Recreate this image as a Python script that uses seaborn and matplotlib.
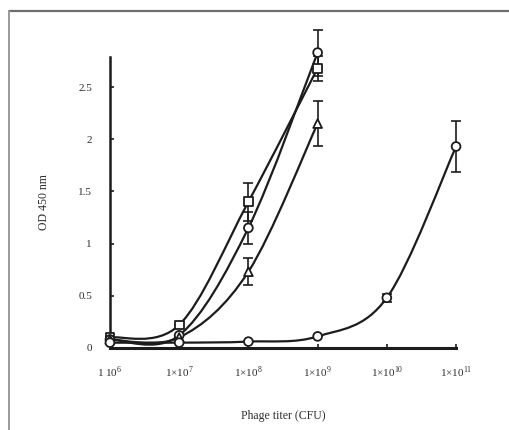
import numpy as np
import pandas as pd
import seaborn as sns
import matplotlib.pyplot as plt
from matplotlib.path import Path
from matplotlib.patches import PathPatch
from matplotlib.lines import Line2D

# titer exponents (1x10^n CFU)
EXPONENTS = [6, 7, 8, 9, 10, 11]
TICK_LABELS = ['1 10$^{6}$', '1×10$^{7}$', '1×10$^{8}$', '1×10$^{9}$',
               '1×10$^{10}$', '1×10$^{11}$']

square_od = [0.10, 0.22, 1.40, 2.68]
square_err = [0.0, 0.0, 0.18, 0.12]
circle_od = [0.08, 0.12, 1.15, 2.83]
circle_err = [0.0, 0.0, 0.15, 0.22]
triangle_od = [0.08, 0.10, 0.73, 2.15]
triangle_err = [0.0, 0.0, 0.13, 0.22]
low_od = [0.05, 0.05, 0.06, 0.11, 0.48, 1.93]
low_err = [0.0, 0.0, 0.0, 0.0, 0.04, 0.24]

INK = '#1c1c1c'

SERIES = [
    ('square', 's', square_od, square_err),
    ('circle', 'o', circle_od, circle_err),
    ('triangle', '^', triangle_od, triangle_err),
    ('low', 'o', low_od, low_err),
]


def _smooth_path(xs, ys):
    # catmull-rom segments written as cubic bezier, like a spreadsheet "smoothed line"
    pts = np.column_stack([xs, ys]).astype(float)
    n = len(pts)
    verts = [pts[0]]
    codes = [Path.MOVETO]
    for i in range(n - 1):
        p0 = pts[max(i - 1, 0)]
        p1 = pts[i]
        p2 = pts[i + 1]
        p3 = pts[min(i + 2, n - 1)]
        verts += [p1 + (p2 - p0) / 6.0, p2 - (p3 - p1) / 6.0, p2]
        codes += [Path.CURVE4] * 3
    return Path(verts, codes)


sns.set_theme(style='ticks')
plt.rcParams['font.family'] = ['Liberation Serif', 'DejaVu Serif']
plt.rcParams['mathtext.fontset'] = 'custom'
plt.rcParams['mathtext.rm'] = 'Liberation Serif'

fig = plt.figure(figsize=(5.09, 4.30), dpi=100)
ax = fig.add_axes([0.216, 0.191, 0.680, 0.677])

rows = []
for name, marker, od, err in SERIES:
    xs = EXPONENTS[:len(od)]
    ax.add_patch(PathPatch(_smooth_path(xs, od), facecolor='none',
                           edgecolor=INK, linewidth=1.6, clip_on=False, zorder=2))
    ax.errorbar(xs, od, yerr=err, fmt='none', ecolor=INK, elinewidth=1.2,
                capsize=3.5, capthick=1.2, clip_on=False, zorder=3)
    rows += [{'titer': x, 'od': y, 'series': name} for x, y in zip(xs, od)]

data = pd.DataFrame(rows)
sns.scatterplot(data=data, x='titer', y='od', style='series',
                markers={'square': 's', 'circle': 'o', 'triangle': '^', 'low': 'o'},
                color='white', edgecolor=INK, linewidth=1.3, s=40,
                legend=False, clip_on=False, zorder=4, ax=ax)

ax.set_xlim(6, 11)
ax.set_ylim(0, 2.79)
ax.set_xticks(EXPONENTS)
ax.set_xticklabels(TICK_LABELS)
ax.set_yticks([0, 0.5, 1, 1.5, 2, 2.5])
ax.set_yticklabels(['0', '0.5', '1', '1.5', '2', '2.5'])
ax.tick_params(axis='both', direction='in', length=3, width=1.2, color=INK,
               labelsize=8, labelcolor='#2e2e2e')
ax.tick_params(axis='y', pad=13)
ax.tick_params(axis='x', pad=12)
sns.despine(ax=ax)
ax.spines['left'].set_linewidth(1.8)
ax.spines['bottom'].set_linewidth(2.2)
ax.spines['left'].set_color(INK)
ax.spines['bottom'].set_color(INK)
ax.set_xlabel('Phage titer (CFU)', fontsize=8.5, color='#2e2e2e', labelpad=22)
ax.set_ylabel('OD 450 nm', fontsize=8.5, color='#2e2e2e', labelpad=20)

# outer frame of the scanned figure (top and left edges only show)
fig.add_artist(Line2D([9 / 509, 1.0], [1 - 11 / 430, 1 - 11 / 430],
                      transform=fig.transFigure, color='#6e6e6e', linewidth=1.6))
fig.add_artist(Line2D([9 / 509, 9 / 509], [0.0, 1 - 11 / 430],
                      transform=fig.transFigure, color='#9a9a9a', linewidth=1.4))

fig.savefig('out.png', dpi=100)
